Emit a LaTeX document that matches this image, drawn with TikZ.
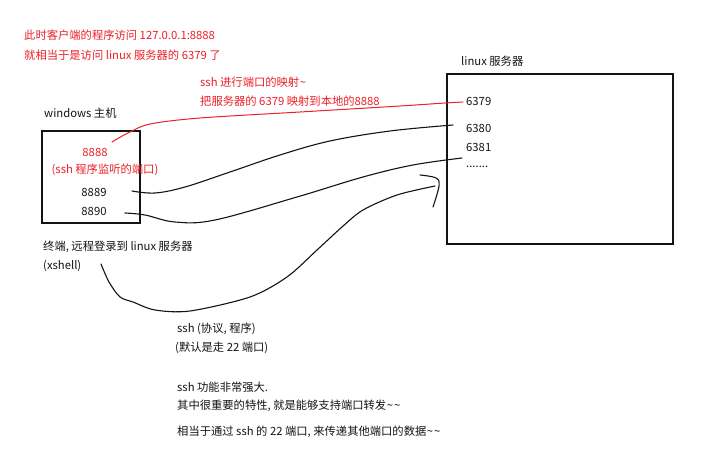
\documentclass[tikz,border=0pt]{standalone}
\usepackage{fontspec}
\setmainfont{Noto Sans CJK SC}
\definecolor{inkred}{RGB}{236,32,40}
\definecolor{ink}{RGB}{20,20,20}
\newcommand{\tld}{\kern0.5pt\textasciitilde\kern0.5pt}
\tikzset{
  txt/.style={anchor=west, inner sep=0pt, font=\fontsize{11.3}{13}\selectfont, text=ink},
  rtxt/.style={txt, text=inkred},
  ctxt/.style={txt, anchor=center},
  box/.style={draw=ink, line width=1.6pt},
  stroke/.style={draw=ink, line width=1.1pt, line cap=round, line join=round},
  rstroke/.style={draw=inkred, line width=1.0pt, line cap=round, line join=round},
}
\begin{document}
\begin{tikzpicture}[x=1pt,y=-1pt]
\path[use as bounding box, fill=white] (0,0) rectangle (712,454);

% top notes
\node[rtxt] (n1) at (24,35) {此时客户端的程序访问 127.0.0.1:8888};
\node[rtxt] (n2) at (24,55) {就相当于是访问 linux 服务器的 6379 了};
\node[rtxt] (m1) at (200,82) {ssh 进行端口的映射\tld};
\node[rtxt] (m2) at (200,101) {把服务器的 6379 映射到本地的8888};

% windows host
\node[txt] (wlabel) at (44,113) {windows 主机};
\draw[box] (42,131) rectangle (140,223);
\node[ctxt, text=inkred] (p8888) at (95,152) {8888};
\node[ctxt, text=inkred] (pssh) at (105,170) {(ssh 程序监听的端口)};
\node[ctxt] (p8889) at (94,192) {8889};
\node[ctxt] (p8890) at (94,211) {8890};

% linux server
\node[txt] (llabel) at (461,61) {linux 服务器};
\draw[box] (447,74) rectangle (673,244);
\node[txt] (s6379) at (466,101) {6379};
\node[txt] (s6380) at (466,128) {6380};
\node[txt] (s6381) at (466,147) {6381};
\node[txt] (sdots) at (466,167) {.......};

% terminal
\node[txt] (term) at (43,247) {终端, 远程登录到 linux 服务器};
\node[txt] (xsh) at (43,266) {(xshell)};

% bottom notes
\node[txt] (b1) at (177,329) {ssh (协议, 程序)};
\node[txt] (b2) at (175,348) {(默认是走 22 端口)};
\node[txt] (b3) at (177,387) {ssh 功能非常强大.};
\node[txt] (b4) at (177,406) {其中很重要的特性, 就是能够支持端口转发\tld\tld};
\node[txt] (b5) at (177,432) {相当于通过 ssh 的 22 端口, 来传递其他端口的数据\tld\tld};

% connector end points
\coordinate (r0) at (112,142);
\coordinate (r1) at (463,102);
\coordinate (a0) at (132,191);
\coordinate (a1) at (453,125);
\coordinate (c0) at (125,213);
\coordinate (c1) at (462,158);
\coordinate (t0) at (101,264);
\coordinate (t1) at (435,186);

% red mapping line
\draw[rstroke] plot[smooth, tension=0.5] coordinates {(r0) (128,133) (150,124) (200,118) (300,112) (400,106) (445,103) (r1)};

% 8889 -> 6380
\draw[stroke] plot[smooth, tension=0.6] coordinates {(a0) (155,193) (185,187) (230,172) (280,155) (330,141) (390,131) (a1)};

% 8890 -> 6381
\draw[stroke] plot[smooth, tension=0.6] coordinates {(c0) (145,215) (175,222) (215,220) (297,197) (363,177) (413,165) (c1)};

% terminal -> server (ssh)
\draw[stroke] plot[smooth, tension=0.5] coordinates {(t0) (109,282) (120,297) (133,302) (155,310) (190,311) (250,297) (287,277) (317,250) (342,227) (363,210) (397,195) (t1)};
% hand drawn arrow hook
\draw[stroke] plot[smooth, tension=0.6] coordinates {(420,175) (436,178) (439,186) (433,207)};
\end{tikzpicture}
\end{document}
